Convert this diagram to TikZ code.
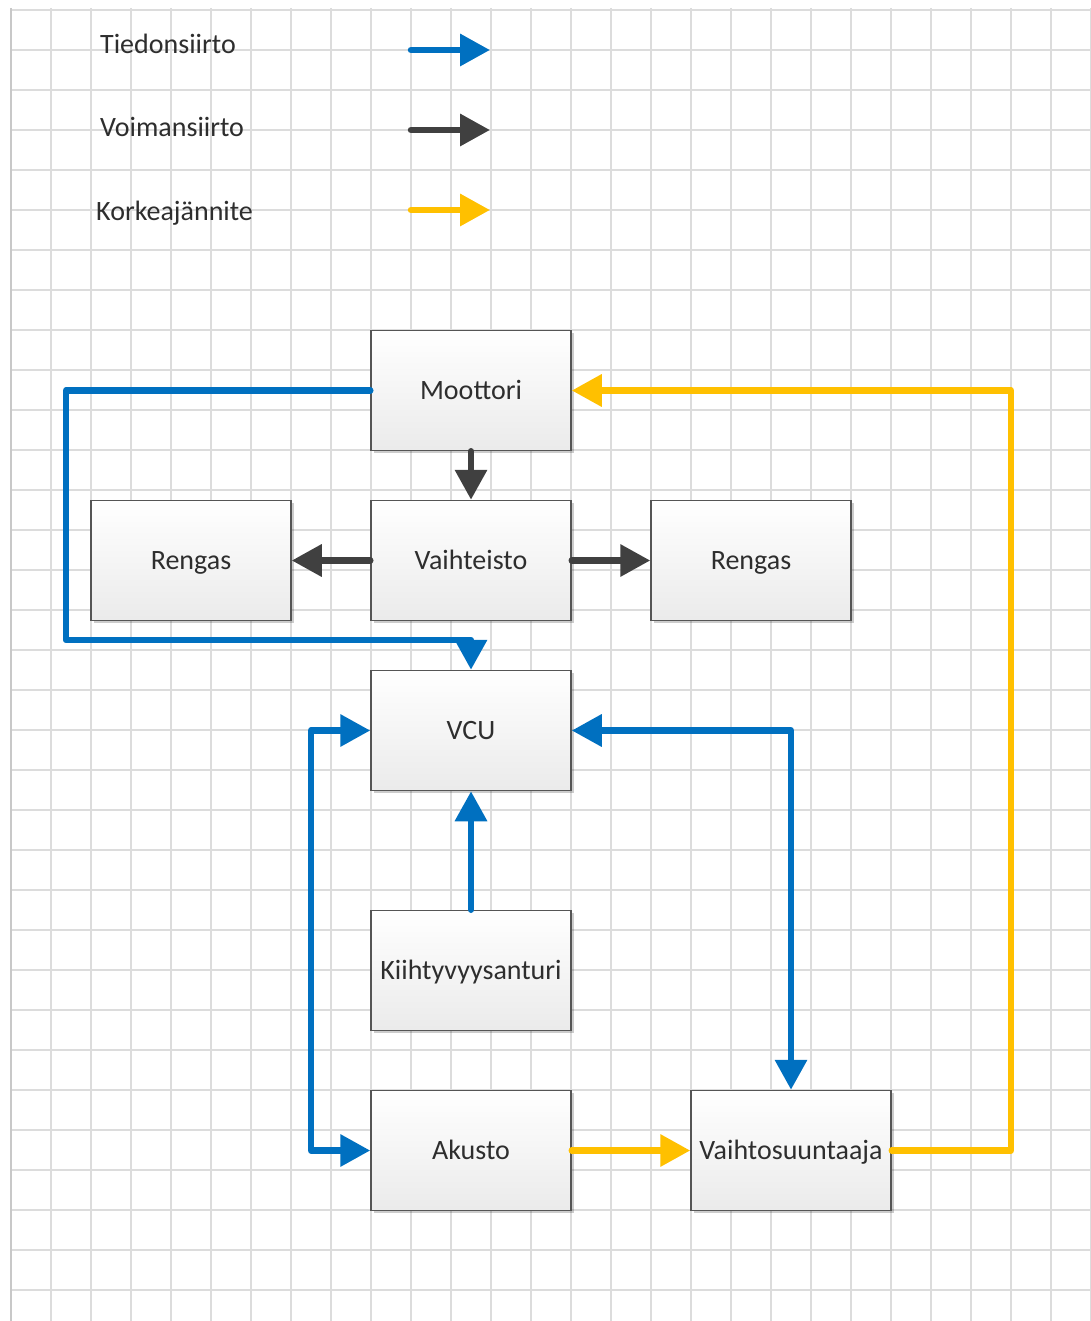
\documentclass[tikz,border=0pt]{standalone}
\usepackage{fontspec}
\setmainfont{Carlito}
\usetikzlibrary{arrows.meta,shadows}
\definecolor{tblue}{HTML}{0070C0}
\definecolor{tgray}{HTML}{404040}
\definecolor{tyellow}{HTML}{FFC000}
\definecolor{gridc}{HTML}{DCDCDC}
\definecolor{gridborder}{HTML}{C8C8C8}
\definecolor{boxborder}{HTML}{555555}
\definecolor{txt}{HTML}{2E2E2E}
\begin{document}
\begin{tikzpicture}[x=1pt,y=-1pt,
  box/.style={draw=boxborder, line width=1.5pt, top color=white, bottom color=black!8,
    minimum width=200pt, minimum height=120pt, inner sep=0pt, text=txt,
    font=\fontsize{28}{34}\selectfont, text height=18pt, text depth=0pt,
    drop shadow={shadow xshift=2.5pt, shadow yshift=-2.5pt, opacity=0.2, fill=black}},
  legtext/.style={anchor=base west, inner sep=0pt, text=txt, font=\fontsize{28}{34}\selectfont},
  conn/.style={line width=6.5pt, line cap=round, line join=round, -{Triangle[length=30pt,width=31pt]}},
  biconn/.style={line width=6.5pt, line cap=round, line join=round, {Triangle[length=30pt,width=31pt]}-{Triangle[length=30pt,width=31pt]}},
  data/.style={conn, draw=tblue},
  power/.style={conn, draw=tgray},
  hv/.style={conn, draw=tyellow}
]
\useasboundingbox (0,0) rectangle (1090,1321);
\fill[white] (0,0) rectangle (1090,1321);
% grid
\foreach \k in {0,...,32} {
  \draw[gridc, line width=1.5pt] (11,10+40*\k) -- (1090,10+40*\k);
}
\foreach \k in {1,...,27} {
  \draw[gridc, line width=1.5pt] (11+40*\k,8) -- (11+40*\k,1321);
}
\draw[gridborder, line width=2pt] (11,8) -- (11,1321);

% legend
\node[legtext] (l1) at (100,54) {Tiedonsiirto};
\node[legtext] (l2) at (100,137) {Voimansiirto};
\node[legtext] (l3) at (96,221) {Korkeajännite};
\coordinate (a1s) at (411,50); \coordinate (a1e) at (490,50);
\coordinate (a2s) at (411,130); \coordinate (a2e) at (490,130);
\coordinate (a3s) at (411,210); \coordinate (a3e) at (490,210);
\draw[data] (a1s) -- (a1e);
\draw[power] (a2s) -- (a2e);
\draw[hv] (a3s) -- (a3e);

% boxes
\node[box] (moot) at (471,390.5) {Moottori};
\node[box] (vaiht) at (471,560.5) {Vaihteisto};
\node[box] (rengL) at (191,560.5) {Rengas};
\node[box] (rengR) at (751,560.5) {Rengas};
\node[box] (vcu) at (471,730.5) {VCU};
\node[box] (kiiht) at (471,970.5) {Kiihtyvyysanturi};
\node[box] (akusto) at (471,1150.5) {Akusto};
\node[box] (inv) at (791,1150.5) {Vaihtosuuntaaja};

% helper corners
\coordinate (bl) at (66,640);
\coordinate (cl) at (311,940);
\coordinate (cr) at (1011,800);

% power transfer
\draw[power] (moot.south) -- (vaiht.north);
\draw[power] (vaiht.west) -- (rengL.east);
\draw[power] (vaiht.east) -- (rengR.west);

% data transfer
\draw[data] (moot.west) -| (bl) -| (vcu.north);
\draw[data] (kiiht.north) -- (vcu.south);
\draw[biconn, draw=tblue] (vcu.west) -| (cl) |- (akusto.west);
\draw[biconn, draw=tblue] (vcu.east) -| (inv.north);

% high voltage
\draw[hv] (akusto.east) -- (inv.west);
\draw[hv] (inv.east) -| (cr) |- (moot.east);
\end{tikzpicture}
\end{document}
